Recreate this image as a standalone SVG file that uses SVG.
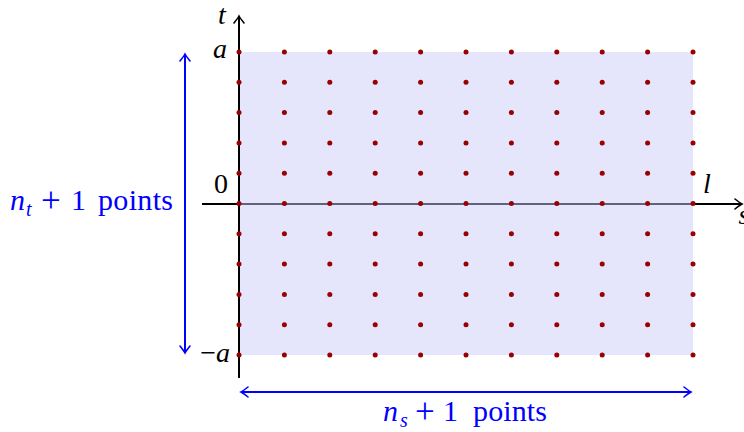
<svg xmlns="http://www.w3.org/2000/svg" width="744" height="432" viewBox="0 0 744 432">
<style>
.ax{stroke:#000;stroke-width:2;fill:none}
.bl{stroke:#0000ff;stroke-width:2;fill:none}
text{font-family:"Liberation Serif","DejaVu Serif",serif}
.m{font-size:28px;font-style:italic;fill:#000}
.r{font-size:28px;fill:#000}
.lb{font-size:30px;fill:#0000ff}
.i{font-style:italic}
.sub{font-size:20px;font-style:italic}
.pl{font-size:35px}
.d{fill:#990000}
</style>
<defs>
<marker id="ak" viewBox="-8 -6 10 12" markerWidth="10" markerHeight="12" refX="0" refY="0" orient="auto-start-reverse" markerUnits="userSpaceOnUse">
<path d="M-7,-5 Q-2,-1 0,0 Q-2,1 -7,5" stroke="#000" stroke-width="1.6" fill="none" stroke-linecap="round"/>
</marker>
<marker id="ab" viewBox="-8 -6 10 12" markerWidth="10" markerHeight="12" refX="0" refY="0" orient="auto-start-reverse" markerUnits="userSpaceOnUse">
<path d="M-7,-5 Q-2,-1 0,0 Q-2,1 -7,5" stroke="#0000ff" stroke-width="1.6" fill="none" stroke-linecap="round"/>
</marker>
<g id="row">
<circle class="d" cx="239" cy="0" r="2.5"/><circle class="d" cx="284.4" cy="0" r="2.5"/><circle class="d" cx="329.8" cy="0" r="2.5"/><circle class="d" cx="375.2" cy="0" r="2.5"/><circle class="d" cx="420.6" cy="0" r="2.5"/><circle class="d" cx="466" cy="0" r="2.5"/><circle class="d" cx="511.4" cy="0" r="2.5"/><circle class="d" cx="556.8" cy="0" r="2.5"/><circle class="d" cx="602.2" cy="0" r="2.5"/><circle class="d" cx="647.6" cy="0" r="2.5"/><circle class="d" cx="693" cy="0" r="2.5"/>
</g>
</defs>
<g id="axes">
<line class="ax" x1="202" y1="204" x2="742" y2="204" marker-end="url(#ak)"/>
<line class="ax" x1="239" y1="378" x2="239" y2="16" marker-end="url(#ak)"/>
</g>
<g id="region">
<rect x="239" y="52" width="454" height="303" fill="#e5e5fc"/>
<line x1="240" y1="204" x2="693" y2="204" stroke="#62627a" stroke-width="2"/>
<line x1="239" y1="52" x2="239" y2="355" stroke="#000" stroke-width="2"/>
</g>
<g id="grid">
<use href="#row" y="52"/><use href="#row" y="82.3"/><use href="#row" y="112.6"/><use href="#row" y="142.9"/><use href="#row" y="173.2"/><use href="#row" y="203.5"/><use href="#row" y="233.8"/><use href="#row" y="264.1"/><use href="#row" y="294.4"/><use href="#row" y="324.7"/><use href="#row" y="355"/>
</g>
<g id="connectors">
<line class="bl" x1="185" y1="54" x2="185" y2="353" marker-start="url(#ab)" marker-end="url(#ab)"/>
<line class="bl" x1="241" y1="392" x2="691" y2="392" marker-start="url(#ab)" marker-end="url(#ab)"/>
</g>
<g id="labels">
<text class="m" x="222" y="24" text-anchor="middle">t</text>
<text class="m" x="220" y="58" text-anchor="middle">a</text>
<text class="r" x="221" y="193" text-anchor="middle">0</text>
<text class="m" x="707" y="193" text-anchor="middle">l</text>
<text class="m" x="744" y="224" text-anchor="middle">s</text>
<text class="m" x="230" y="362" text-anchor="end"><tspan font-style="normal">−</tspan>a</text>
<text class="lb"><tspan class="i" x="10" y="210">n</tspan><tspan class="sub" x="26" y="216">t</tspan><tspan class="pl" x="41" y="212">+</tspan><tspan x="71" y="210">1</tspan><tspan x="98" y="210" textLength="75">points</tspan></text>
<text class="lb"><tspan class="i" x="383" y="421">n</tspan><tspan class="sub" x="400" y="427">s</tspan><tspan class="pl" x="415" y="423">+</tspan><tspan x="443" y="421">1</tspan><tspan x="473" y="421" textLength="74">points</tspan></text>
</g>
</svg>
